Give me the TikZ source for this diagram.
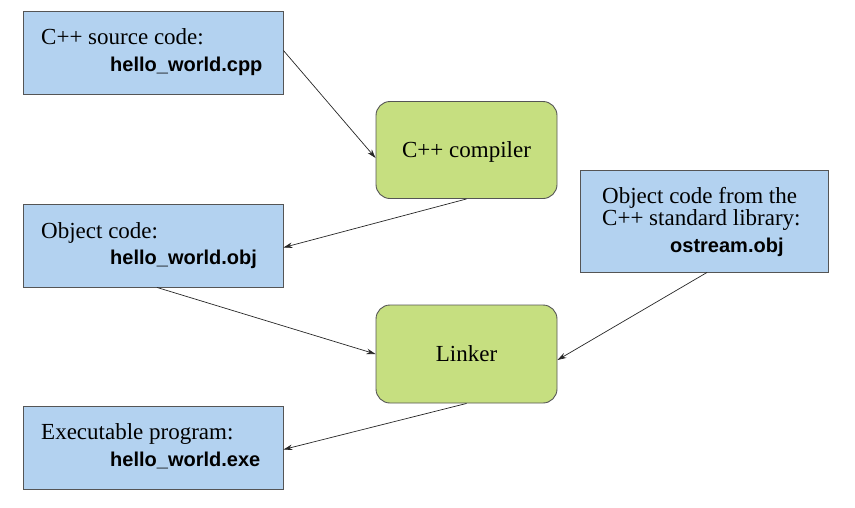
\documentclass[tikz,border=0pt]{standalone}
\usepackage{fontspec}
\setmainfont{Liberation Serif}
\newfontfamily\codefont{Liberation Sans}
\usetikzlibrary{arrows.meta}
\definecolor{filebox}{RGB}{179,210,240}
\definecolor{toolbox}{RGB}{198,223,128}
\definecolor{edge}{RGB}{85,85,85}
\begin{document}
\begin{tikzpicture}[x=1pt,y=-1pt,
  filenode/.style={draw=edge,line width=0.9pt,fill=filebox,inner sep=0pt,
    minimum width=260pt,minimum height=83pt},
  toolnode/.style={draw=edge,line width=0.9pt,fill=toolbox,rounded corners=14pt,
    inner sep=0pt,minimum width=181pt,minimum height=97pt,text depth=0pt,
    font=\fontsize{23}{27}\selectfont},
  label/.style={anchor=base west,inner sep=0pt,font=\fontsize{23}{27}\selectfont},
  code/.style={anchor=base west,inner sep=0pt,font=\codefont\bfseries\fontsize{20}{24}\selectfont},
  flow/.style={draw=black!85,line width=0.7pt,-{Stealth[length=9pt,width=5.5pt]}}]
\useasboundingbox (0,0) rectangle (855,507);

% file boxes
\node[filenode] (src) at (153,52.5) {};
\node[filenode] (obj) at (153,245.5) {};
\node[filenode] (exe) at (153,447.5) {};
\node[filenode,minimum width=248pt,minimum height=102pt] (lib) at (704,221) {};

% tools
\node[toolnode] (comp) at (466.5,150) {C++ compiler};
\node[toolnode,minimum height=98pt] (link) at (466.5,354) {Linker};

% box texts
\node[label] (srct) at (41,44) {C++ source code:};
\node[code] (srcf) at (110,71) {hello\_world.cpp};
\node[label] (objt) at (41,238) {Object code:};
\node[code] (objf) at (110,264) {hello\_world.obj};
\node[label] (exet) at (41,439) {Executable program:};
\node[code] (exef) at (110,466) {hello\_world.exe};
\node[label] (libt1) at (602,203) {Object code from the};
\node[label] (libt2) at (602,225) {C++ standard library:};
\node[code] (libf) at (670,252) {ostream.obj};

% build flow
\draw[flow] ([yshift=2pt]src.east) -- ([yshift=-8pt]comp.west);
\draw[flow] (comp.south) -- ([yshift=-2pt]obj.east);
\draw[flow] ([xshift=4pt]obj.south) -- (link.west);
\draw[flow] ([xshift=3pt]lib.south) -- ([yshift=-6pt]link.east);
\draw[flow] (link.south) -- ([yshift=-2pt]exe.east);
\end{tikzpicture}
\end{document}
